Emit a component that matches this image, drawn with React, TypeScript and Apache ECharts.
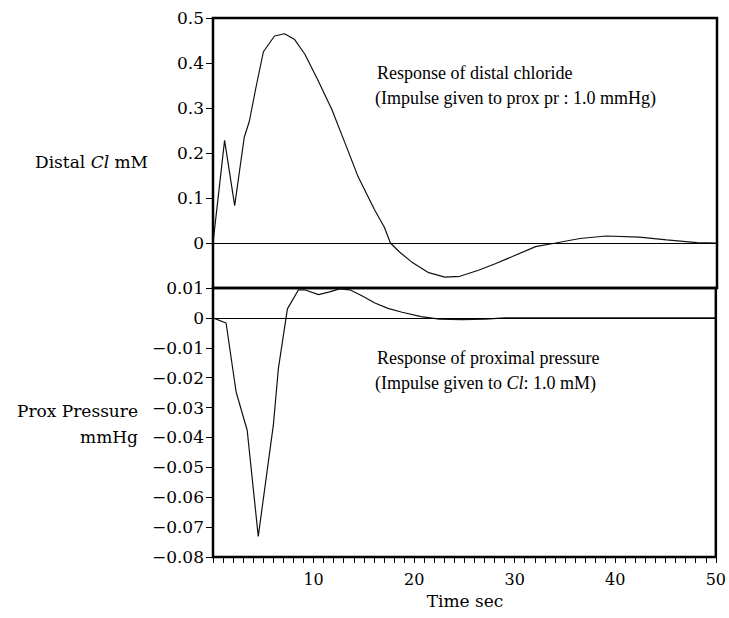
import React, { useEffect, useRef } from "react";
import * as echarts from "echarts";

// Distal chloride response (mM) vs time (sec)
const distalTimes = [0, 1.15, 2.15, 3.1, 3.6, 4.3, 5.0, 6.1, 7.1, 8.1, 9.1, 10.4, 11.8, 13.1, 14.4, 16.0, 17.0, 17.6, 18.5, 19.7, 21.4, 23.0, 24.5, 26.4, 28.0, 29.7, 32.0, 34.0, 36.4, 39.0, 42.3, 45.0, 48.0, 50.0];
const distalCl = [0, 0.228, 0.083, 0.235, 0.27, 0.35, 0.425, 0.46, 0.465, 0.452, 0.42, 0.362, 0.296, 0.222, 0.147, 0.075, 0.035, 0.0, -0.02, -0.042, -0.066, -0.076, -0.074, -0.06, -0.046, -0.03, -0.008, 0, 0.01, 0.0155, 0.013, 0.007, 0.001, 0];

// Proximal pressure response (mmHg) vs time (sec)
const proxTimes = [0, 1.3, 2.3, 3.4, 4.5, 6.0, 6.5, 7.4, 8.5, 9.1, 10.5, 11.5, 12.6, 13.6, 14.8, 16.1, 17.4, 18.8, 20.7, 22.5, 24.7, 27.1, 29.0, 50.0];
const proxPressure = [0, -0.0017, -0.0248, -0.0376, -0.0731, -0.0359, -0.017, 0.003, 0.0094, 0.0094, 0.0078, 0.0086, 0.0097, 0.0094, 0.0074, 0.005, 0.0032, 0.0019, 0.0004, -0.0004, -0.0006, -0.0004, 0, 0];

// Axis tick labels
const xLabelValues = [10, 20, 30, 40, 50];

const NUM_FONT = "DejaVu Serif";
const TXT_FONT = "Liberation Serif";

function fmtNum(v: number): string {
  const r = Math.round(v * 1000) / 1000;
  if (r === 0) return "0";
  const s = Math.abs(r).toFixed(Math.abs(r) < 0.1 ? 2 : 1);
  return (r < 0 ? "\u2212" : "") + s;
}

export default function App() {
  const ref = useRef<HTMLDivElement>(null);
  useEffect(() => {
    document.body.style.margin = "0";
    const chart = echarts.init(ref.current!, null, { renderer: "svg" });
    const zip = (xs: number[], ys: number[]) => xs.map((x, i) => [x, ys[i]]);
    const zeroLine = {
      silent: true,
      symbol: ["none", "none"],
      label: { show: false },
      lineStyle: { color: "#000", width: 1, type: "solid" },
      data: [{ yAxis: 0 }],
    };
    const frame = { show: true, borderColor: "#000", borderWidth: 2.5, backgroundColor: "transparent" };
    chart.setOption({
      animation: false,
      backgroundColor: "#fff",
      grid: [
        { left: 213, width: 504, top: 18, height: 270, ...frame },
        { left: 213, width: 504, top: 288, height: 269, ...frame },
      ],
      xAxis: [
        { type: "value", gridIndex: 0, min: 0, max: 50, show: false, splitLine: { show: false } },
        {
          type: "value",
          gridIndex: 1,
          position: "bottom",
          min: 0,
          max: 50,
          interval: 1,
          axisLine: { show: false, onZero: false },
          axisTick: { show: true, length: 6, lineStyle: { color: "#000", width: 1 } },
          axisLabel: {
            margin: 14,
            color: "#000",
            fontFamily: NUM_FONT,
            fontSize: 16,
            formatter: (v: number) => (xLabelValues.includes(Math.round(v)) && Math.abs(v - Math.round(v)) < 1e-6 ? String(Math.round(v)) : ""),
          },
          splitLine: { show: false },
        },
      ],
      yAxis: [
        {
          type: "value",
          gridIndex: 0,
          min: -0.1,
          max: 0.5,
          interval: 0.1,
          axisLine: { show: false, onZero: false },
          axisTick: { show: true, length: 7, lineStyle: { color: "#000", width: 1 } },
          axisLabel: {
            margin: 9,
            color: "#000",
            fontFamily: NUM_FONT,
            fontSize: 17,
            formatter: (v: number) => (v < -1e-6 ? "" : fmtNum(v)),
          },
          splitLine: { show: false },
        },
        {
          type: "value",
          gridIndex: 1,
          min: -0.08,
          max: 0.01,
          interval: 0.01,
          axisLine: { show: false, onZero: false },
          axisTick: { show: true, length: 7, lineStyle: { color: "#000", width: 1 } },
          axisLabel: {
            margin: 9,
            color: "#000",
            fontFamily: NUM_FONT,
            fontSize: 17,
            formatter: (v: number) => fmtNum(v),
          },
          splitLine: { show: false },
        },
      ],
      series: [
        {
          type: "line",
          xAxisIndex: 0,
          yAxisIndex: 0,
          data: zip(distalTimes, distalCl),
          showSymbol: false,
          lineStyle: { color: "#111", width: 1.2 },
          markLine: zeroLine,
        },
        {
          type: "line",
          xAxisIndex: 1,
          yAxisIndex: 1,
          data: zip(proxTimes, proxPressure),
          showSymbol: false,
          lineStyle: { color: "#111", width: 1.2 },
          markLine: zeroLine,
        },
      ],
      graphic: [
        {
          type: "text",
          x: 148,
          y: 162,
          style: {
            text: "{a|Distal }{i|Cl}{a| mM}",
            align: "right",
            verticalAlign: "middle",
            rich: {
              a: { fontFamily: NUM_FONT, fontSize: 17, fill: "#000" },
              i: { fontFamily: NUM_FONT, fontSize: 17, fontStyle: "italic", fill: "#000" },
            },
          },
        },
        {
          type: "text",
          x: 138,
          y: 411,
          style: { text: "Prox Pressure", align: "right", verticalAlign: "middle", fontFamily: NUM_FONT, fontSize: 17, fill: "#000" },
        },
        {
          type: "text",
          x: 138,
          y: 437,
          style: { text: "mmHg", align: "right", verticalAlign: "middle", fontFamily: NUM_FONT, fontSize: 17, fill: "#000" },
        },
        {
          type: "text",
          x: 377,
          y: 73,
          style: { text: "Response of distal chloride", align: "left", verticalAlign: "middle", fontFamily: TXT_FONT, fontSize: 18, fill: "#000" },
        },
        {
          type: "text",
          x: 375,
          y: 98,
          style: { text: "(Impulse given to prox pr : 1.0 mmHg)", align: "left", verticalAlign: "middle", fontFamily: TXT_FONT, fontSize: 18, fill: "#000" },
        },
        {
          type: "text",
          x: 377,
          y: 358,
          style: { text: "Response of proximal pressure", align: "left", verticalAlign: "middle", fontFamily: TXT_FONT, fontSize: 18, fill: "#000" },
        },
        {
          type: "text",
          x: 375,
          y: 383,
          style: {
            text: "{a|(Impulse given to }{i|Cl}{a|: 1.0 mM)}",
            align: "left",
            verticalAlign: "middle",
            rich: {
              a: { fontFamily: TXT_FONT, fontSize: 18, fill: "#000" },
              i: { fontFamily: TXT_FONT, fontSize: 18, fontStyle: "italic", fill: "#000" },
            },
          },
        },
        {
          type: "text",
          x: 465,
          y: 601,
          style: { text: "Time sec", align: "center", verticalAlign: "middle", fontFamily: NUM_FONT, fontSize: 17, fill: "#000" },
        },
      ],
    });
    return () => chart.dispose();
  }, []);
  return <div ref={ref} style={{ width: 729, height: 618, position: "absolute", left: 0, top: 0 }} />;
}
